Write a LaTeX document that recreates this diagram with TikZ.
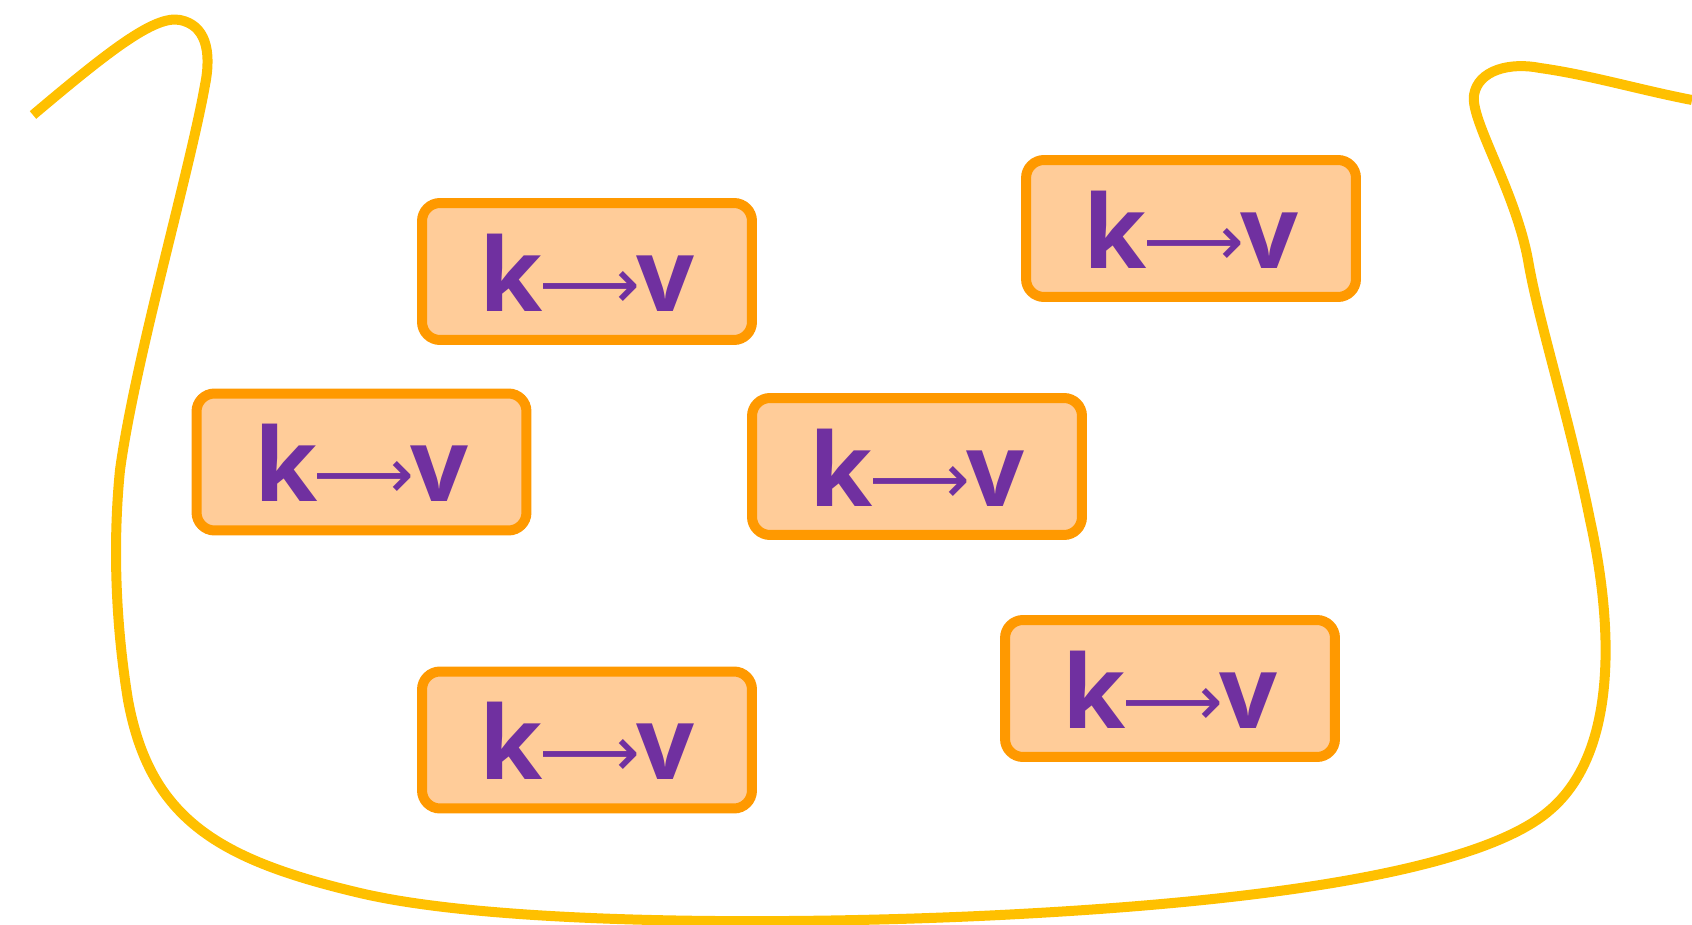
\documentclass[tikz,border=0pt]{standalone}
\usepackage{fontspec}
\usepackage{tikz}
\usepackage{xcolor}
\newfontfamily\kvfont{Open Sans}
\newfontfamily\kvarrow{DejaVu Sans}
\definecolor{kvorange}{HTML}{FF9900}
\definecolor{kvpeach}{HTML}{FFCC99}
\definecolor{kvpurple}{HTML}{7030A0}
\definecolor{bagyellow}{HTML}{FFC000}
\newcommand{\kvpair}{k\kern-2pt\raisebox{1.5pt}{\kvarrow\mdseries\fontsize{40}{42}\selectfont ⟶}\kern-2pt v}

\begin{document}
\begin{tikzpicture}[
  x=0.02cm, y=-0.02cm,
  pair/.style={draw=kvorange, fill=kvpeach, line width=0.2cm, rounded corners=0.36cm,
    minimum width=6.6cm, minimum height=2.74cm, inner sep=0,
    text=kvpurple, font=\kvfont\bfseries\fontsize{58}{60}\selectfont, text height=45pt, text depth=0pt},
  bag/.style={draw=bagyellow, line width=0.2cm}
]
\useasboundingbox (0,0) rectangle (1692,925);
% the bag round the pairs
\draw[bag] (33,115) .. controls (110,50) and (155,15) .. (180,20)
  .. controls (205,25) and (212,50) .. (205,85)
  .. controls (190,170) and (135,360) .. (120,470)
  .. controls (113,540) and (115,620) .. (128,700)
  .. controls (150,820) and (220,860) .. (360,893)
  .. controls (500,926) and (800,925) .. (1000,915)
  .. controls (1200,905) and (1470,880) .. (1550,810)
  .. controls (1620,750) and (1612,620) .. (1590,520)
  .. controls (1570,420) and (1538,320) .. (1528,260)
  .. controls (1515,190) and (1470,120) .. (1474,95)
  .. controls (1478,70) and (1510,62) .. (1540,68)
  .. controls (1590,75) and (1640,90) .. (1692,100);

% key -> value pairs
\node[pair] (p1) at (587,271.5) {\kvpair};
\node[pair] (p2) at (1191,228.5) {\kvpair};
\node[pair] (p3) at (361.5,462) {\kvpair};
\node[pair] (p4) at (917,466.5) {\kvpair};
\node[pair] (p5) at (587,740) {\kvpair};
\node[pair] (p6) at (1170,688.5) {\kvpair};
\end{tikzpicture}
\end{document}
